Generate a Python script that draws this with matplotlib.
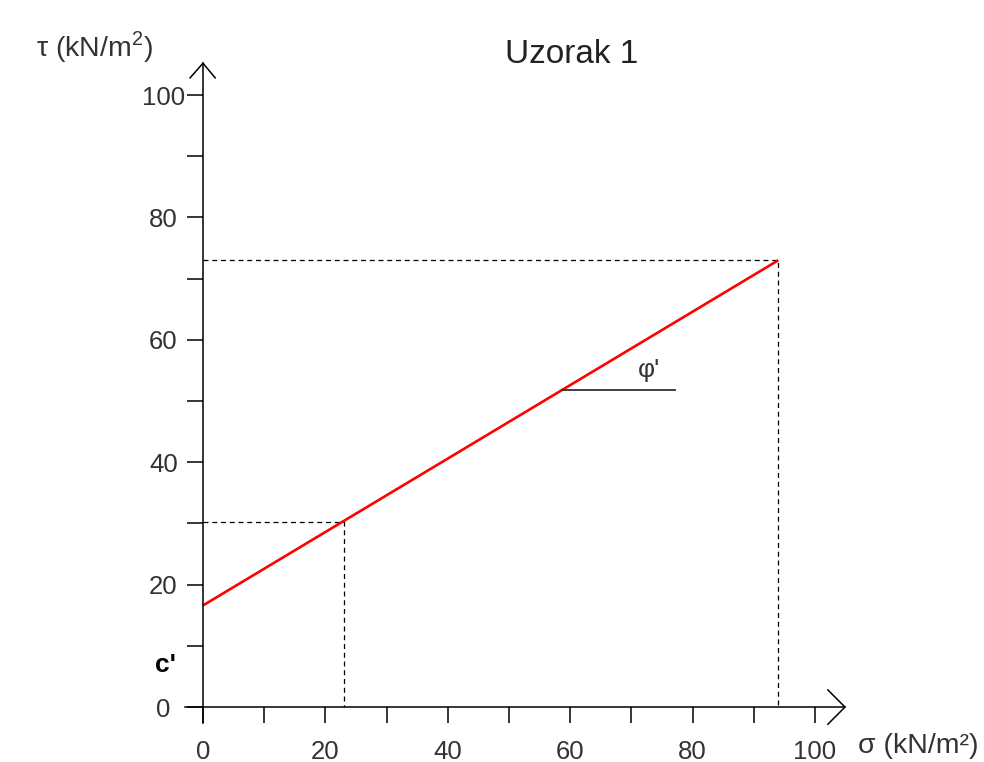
import numpy as np
import matplotlib
matplotlib.use("Agg")
import matplotlib.pyplot as plt

plt.rcParams['font.family'] = ['Liberation Sans', 'DejaVu Sans']
plt.rcParams['mathtext.fontset'] = 'custom'
plt.rcParams['mathtext.rm'] = 'Liberation Sans'

# Coulomb failure line (sigma, tau) in kN/m2
line_sigma = [0, 94]
line_tau = [16.6, 73.0]
# points marked with dashed guides
guide_sigma = [23, 94]
guide_tau = [30.3, 73.0]
# where the phi' angle marker starts / ends
phi_start = 58.7
phi_end = 77.1

x_ticks = [0, 20, 40, 60, 80, 100]
y_ticks = [0, 20, 40, 60, 80, 100]
minor_ticks = [10, 30, 50, 70, 90]

text_col = '#333333'

fig = plt.figure(figsize=(9.84, 7.62), dpi=100)
ax = fig.add_axes([0.1876, 0.048, 0.678, 0.8755])
ax.set_xlim(-3, 106)
ax.set_ylim(-3, 106)

for s in ['top', 'right']:
    ax.spines[s].set_visible(False)
ax.spines['left'].set_position(('data', 0))
ax.spines['bottom'].set_position(('data', 0))
ax.spines['left'].set_bounds(-2.6, 105.2)
ax.spines['bottom'].set_bounds(-2.9, 104.9)
for s in ['left', 'bottom']:
    ax.spines[s].set_linewidth(1.1)

ax.set_xticks(x_ticks)
ax.set_yticks(y_ticks)
ax.set_xticks(minor_ticks, minor=True)
ax.set_yticks(minor_ticks, minor=True)
ax.tick_params(axis='both', which='both', direction='out', length=11.5, width=1.1,
               color='black')
ax.tick_params(axis='x', which='major', pad=12, labelsize=18.5, labelcolor=text_col)
ax.tick_params(axis='y', which='major', pad=17, labelsize=18.5, labelcolor=text_col)
for lab in ax.get_yticklabels():
    lab.set_horizontalalignment('center')

# arrow heads
ax.plot([-2.1, 0, 2.0], [102.8, 105.2, 102.8], color='black', lw=1.1, clip_on=False)
ax.plot([102.1, 104.9, 102.1], [2.8, 0, -2.8], color='black', lw=1.1, clip_on=False)

# dashed guides
for gs, gt in zip(guide_sigma, guide_tau):
    ax.plot([0, gs, gs], [gt, gt, 0], color='black', lw=0.9, ls=(0, (4, 3)))

# failure line
ax.plot(line_sigma, line_tau, color='#ff0000', lw=1.9, solid_capstyle='butt')

# phi' marker
slope = (line_tau[1] - line_tau[0]) / (line_sigma[1] - line_sigma[0])
phi_y = line_tau[0] + slope * phi_start
ax.plot([phi_start, phi_end], [phi_y, phi_y], color='#333333', lw=1.3)
ax.text(72.9, 55.1, "φ'", fontsize=19, color=text_col, ha='center', va='center')

ax.text(-6.2, 6.9, "c'", fontsize=19, fontweight='bold', color='black',
        ha='center', va='center')

ax.text(-27.2, 107.8, "τ (kN/m$^2$)", fontsize=20.5, color=text_col, ha='left',
        va='center', clip_on=False)
ax.text(107, -6.4, "σ (kN/m²)", fontsize=20.5, color=text_col, ha='left', va='center',
        clip_on=False)
ax.text(60.2, 106.6, "Uzorak 1", fontsize=24, color='#222222', ha='center', va='center',
        clip_on=False)

fig.savefig("out.png", dpi=100)
